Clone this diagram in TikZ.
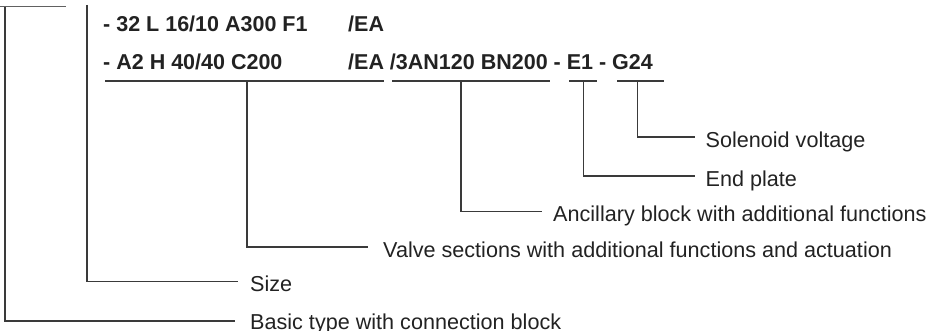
\documentclass[tikz,border=0pt]{standalone}
\usepackage{fontspec}
\setmainfont{Liberation Sans}
\usetikzlibrary{calc}
\definecolor{ink}{HTML}{222222}
\definecolor{linec}{HTML}{3A3A3A}
\begin{document}
\begin{tikzpicture}[x=1pt,y=-1pt,
  code/.style={inner sep=0pt,anchor=base west,text=ink,font=\fontsize{21.5}{24}\selectfont\bfseries},
  lab/.style={inner sep=0pt,anchor=base west,text=ink,font=\fontsize{21.6}{24}\selectfont},
  ln/.style={draw=linec,line width=1.1pt},
  tick/.style={draw=linec,line width=1.1pt}]
\useasboundingbox (0,0) rectangle (930,331);
% code lines
\node[code] (l1a) at (103,31.5) {- 32 L 16/10 A300 F1};
\node[code] (l1b) at (348,31.5) {/EA};
\node[code] (l2a) at (103,70) {- A2 H 40/40 C200};
\node[code] (l2b) at (348,70) {/EA /3AN120 BN200 - E1 - G24};
% underline segments
\coordinate (s1a) at (105,81); \coordinate (s1b) at (384,81);
\coordinate (s2a) at (392,81); \coordinate (s2b) at (550,81);
\coordinate (s3a) at (569,81); \coordinate (s3b) at (597,81);
\coordinate (s4a) at (617,81); \coordinate (s4b) at (664,81);
\draw[ln] (s1a) -- (s1b);
\draw[ln] (s2a) -- (s2b);
\draw[ln] (s3a) -- (s3b);
\draw[ln] (s4a) -- (s4b);
% tick tops
\coordinate (t1) at (247,81);
\coordinate (t2) at (461,81);
\coordinate (t3) at (583.5,81);
\coordinate (t4) at (637.5,81);
\coordinate (t5) at (87,5);
\coordinate (t6) at (5,6.3);
\coordinate (t6s) at (0,6.3);
\coordinate (t6l) at (66,6.3);
% line ends
\coordinate (e4) at (695,137);
\coordinate (e3) at (695,176);
\coordinate (e2) at (542,211.5);
\coordinate (e1) at (368,247);
\coordinate (e5) at (238,281.5);
\coordinate (e6) at (235,321);
% labels
\node[lab] (L4) at ($(e4)+(10.5,10.5)$) {Solenoid voltage};
\node[lab] (L3) at ($(e3)+(10.5,10.5)$) {End plate};
\node[lab] (L2) at ($(e2)+(11,10.5)$) {Ancillary block with additional functions};
\node[lab] (L1) at ($(e1)+(15,10.5)$) {Valve sections with additional functions and actuation};
\node[lab] (L5) at ($(e5)+(12,10.5)$) {Size};
\node[lab] (L6) at ($(e6)+(15,9)$) {Basic type with connection block};
% connectors
\draw[tick] (t4) |- (e4);
\draw[tick] (t3) |- (e3);
\draw[tick] (t2) |- (e2);
\draw[tick] (t1) |- (e1);
\draw[tick] (t5) |- (e5);
\draw[tick] (t6) |- (e6);
\draw[ln,draw=linec!80] (t6s) -- (t6l);
\end{tikzpicture}
\end{document}
